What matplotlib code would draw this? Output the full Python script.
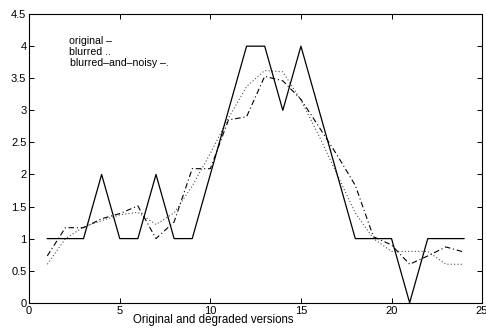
import numpy as np
import matplotlib
matplotlib.use('Agg')
import matplotlib.pyplot as plt

# data
x = np.arange(1, 25)
original = [1, 1, 1, 2, 1, 1, 2, 1, 1, 2, 3, 4, 4, 3, 4, 3, 2, 1, 1, 1, 0, 1, 1, 1]
blurred = [0.6, 1.0, 1.18, 1.28, 1.37, 1.41, 1.22, 1.4, 1.82, 2.33, 2.88, 3.37,
           3.62, 3.6, 3.16, 2.6, 2.0, 1.4, 1.0, 0.8, 0.8, 0.8, 0.6, 0.6]
noisy = [0.73, 1.17, 1.17, 1.31, 1.39, 1.51, 1.0, 1.26, 2.09, 2.09, 2.85, 2.9,
         3.53, 3.46, 3.17, 2.74, 2.3, 1.83, 1.03, 0.9, 0.6, 0.73, 0.87, 0.79]

xticks = [0, 5, 10, 15, 20, 25]
yticks = [0, 0.5, 1, 1.5, 2, 2.5, 3, 3.5, 4, 4.5]
ytick_labels = ['0', '0.5', '1', '1.5', '2', '2.5', '3', '3.5', '4', '4.5']
legend_lines = ['original \u2013', 'blurred ..', 'blurred\u2013and\u2013noisy \u2013.']

plt.rcParams['font.family'] = ['Liberation Sans', 'DejaVu Sans']

fig = plt.figure(figsize=(4.86, 3.28), dpi=100)
ax = fig.add_axes([0.060, 0.077, 0.932, 0.880])

ax.plot(x, original, color='black', lw=0.9, ls='-')
ax.plot(x, blurred, color='black', lw=0.8, ls=(0, (1, 2)), alpha=0.7)
ax.plot(x, noisy, color='black', lw=0.8, ls=(0, (5, 2.5, 1, 2.5)))

ax.set_xlim(0, 25)
ax.set_ylim(0, 4.5)
ax.set_xticks(xticks)
ax.set_yticks(yticks)
ax.set_yticklabels(ytick_labels)
ax.tick_params(direction='in', length=3.5, width=0.7, labelsize=8,
               top=True, right=True, pad=2)
for sp in ax.spines.values():
    sp.set_linewidth(0.8)

# pseudo legend as plain text
for i, t in enumerate(legend_lines):
    ax.text(2.2 + (0.05 if i == 2 else 0), 4.08 - 0.175 * i, t,
            fontsize=7.6, va='center', ha='left')

ax.text(0.406, -0.060, 'Original and degraded versions', transform=ax.transAxes,
        fontsize=8.3, ha='center', va='center')

plt.savefig('out.png', dpi=100)
